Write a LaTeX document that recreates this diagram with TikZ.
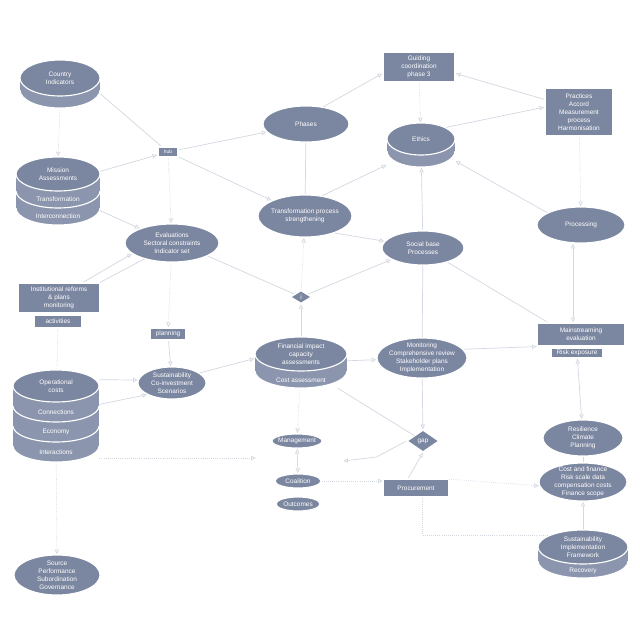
\documentclass[tikz,border=0pt]{standalone}
\usepackage{fontspec}
\setmainfont{Liberation Sans}
\usetikzlibrary{arrows.meta,shapes.geometric,calc,backgrounds}
\definecolor{slate}{HTML}{7B86A0}
\definecolor{slateside}{HTML}{8B95AD}
\definecolor{wire}{HTML}{D3D8E1}
% one band of a cylinder: cx, ytop, ybottom, rx, ry
\newcommand{\cylband}[5]{%
  \filldraw[fill=slateside, draw=white, line width=0.8pt] (#1,#3) ellipse [x radius=#4, y radius=#5];
  \fill[slateside] ({#1-#4},#2) rectangle ({#1+#4},#3);
}

\begin{document}
\begin{tikzpicture}[x=0.025cm, y=-0.025cm,
    oval/.style n args={2}{ellipse, fill=slate, draw=white, line width=0.8pt, minimum width=#1*0.025cm, minimum height=#2*0.025cm, inner sep=0pt},
    panel/.style n args={2}{rectangle, fill=slate, draw=white, line width=0.8pt, minimum width=#1*0.025cm, minimum height=#2*0.025cm, inner sep=0pt, text=white, font=\fontsize{4.6}{5.8}\selectfont, align=center},
    gate/.style n args={2}{diamond, fill=slate, draw=white, line width=0.8pt, minimum width=#1*0.025cm, minimum height=#2*0.025cm, inner sep=0pt},
    hold/.style n args={2}{rectangle, draw=none, minimum width=#1*0.025cm, minimum height=#2*0.025cm, inner sep=0pt},
    lbl/.style={text=white, font=\fontsize{4.6}{5.8}\selectfont, align=center, inner sep=0pt},
    link/.style={draw=wire, line width=0.5pt},
    arr/.style={link, -{Latex[open, length=3.5pt, width=3.5pt]}},
    dbl/.style={link, {Latex[open, length=3.5pt, width=3.5pt]}-{Latex[open, length=3.5pt, width=3.5pt]}},
    dots/.style={densely dotted}
]
    % Left column
    \cylband{60}{78}{90}{40}{18}
    \node[oval={80}{36}, label={[lbl]center:Country\\Indicators}] (c1top) at (60,78) {};
    \node[hold={80}{50}] (c1) at (60,83) {};

    \cylband{58}{191}{208}{42}{17}
    \cylband{58}{174}{191}{42}{17}
    \node[oval={84}{34}, label={[lbl]center:Mission\\Assessments}] (c3top) at (58,174) {};
    \node[lbl] (c3b1) at (58,199.5) {Transformation};
    \node[lbl] (c3b2) at (58,216.5) {Interconnection};
    \node[hold={84}{68}] (c3) at (58,191) {};

    \node[panel={81}{30}] (r12) at (59,298) {Institutional reforms\\\& plans\\monitoring};
    \node[panel={48}{13}] (r12sub) at (58,321.5) {activities};

    \cylband{56}{426}{446}{43}{16}
    \cylband{56}{406}{426}{43}{16}
    \cylband{56}{386}{406}{43}{16}
    \node[oval={86}{32}, label={[lbl]center:Operational\\costs}] (c19top) at (56,386) {};
    \node[lbl] (c19b1) at (56,412) {Connections};
    \node[lbl] (c19b2) at (56,432) {Economy};
    \node[lbl] (c19b3) at (56,452) {Interactions};
    \node[hold={86}{92}] (c19) at (56,416) {};

    \node[oval={86}{40}, label={[lbl]center:Source\\Performance\\Subordination\\Governance}] (e28) at (57,575) {};

    % Second column
    \node[panel={20}{10}, font=\fontsize{3.5}{4}\selectfont] (j2) at (168,152) {hub};
    \node[oval={94}{38}, label={[lbl]center:Evaluations\\Sectoral constraints\\Indicator set}] (e4) at (172,243) {};
    \node[panel={35}{12}] (r13) at (168,334) {planning};
    \node[oval={68}{32}, label={[lbl]center:Sustainability\\Co-investment\\Scenarios}] (e18) at (172,383) {};

    % Centre column
    \node[oval={86}{36}, label={[lbl]center:Phases}] (e5) at (306,124) {};
    \node[oval={94}{42}, label={[lbl]center:Transformation process\\strengthening}] (e9) at (305,216) {};
    \node[gate={21}{13}, label={[lbl]center:i}] (d14) at (301,297) {};

    \cylband{301}{354}{371}{46}{17}
    \node[oval={92}{34}, label={[lbl]center:Financial impact\\capacity\\assessments}] (c15top) at (301,354) {};
    \node[lbl] (c15b1) at (301,380) {Cost assessment};
    \node[hold={92}{51}] (c15) at (301,362.5) {};

    \node[oval={50}{14}, label={[lbl]center:Management}] (e20) at (297,441) {};
    \node[oval={46}{14}, label={[lbl]center:Coalition}] (e23) at (298,481) {};
    \node[oval={44}{14}, label={[lbl]center:Outcomes}] (e24) at (298,504) {};

    % Fourth column
    \node[panel={72}{30}] (r6) at (419,67) {Guiding\\coordination\\phase 3};
    \cylband{421}{139}{151}{34}{16}
    \node[oval={68}{32}, label={[lbl]center:Ethics}] (c7top) at (421,139) {};
    \node[hold={68}{44}] (c7) at (421,145) {};
    \node[oval={82}{34}, label={[lbl]center:Social base\\Processes}] (e10) at (423,248) {};
    \node[oval={90}{40}, label={[lbl]center:Monitoring\\Comprehensive review\\Stakeholder plans\\Implementation}] (e16) at (422,358) {};
    \node[gate={32}{22}, label={[lbl]center:gap}] (d21) at (423,441) {};
    \node[panel={65}{18}] (r25) at (416,488) {Procurement};

    % Right column
    \node[panel={68}{48}] (r8) at (579,112) {Practices\\Accord\\Measurement\\process\\Harmonisation};
    \node[oval={88}{36}, label={[lbl]center:Processing}] (e11) at (581,225) {};
    \node[panel={87}{23}] (r17) at (581,334.5) {Mainstreaming\\evaluation};
    \node[panel={52}{10}] (r17sub) at (577,353) {Risk exposure};
    \node[oval={80}{36}, label={[lbl]center:Resilience\\Climate\\Planning}] (e22) at (583,438) {};
    \node[oval={88}{38}, label={[lbl]center:Cost and finance\\Risk scale data\\compensation costs\\Finance scope}] (e26) at (583,482) {};
    \cylband{583}{547}{561}{45}{17}
    \node[oval={90}{34}, label={[lbl]center:Sustainability\\Implementation\\Framework}] (c27top) at (583,547) {};
    \node[lbl] (c27b1) at (583,571) {Recovery};
    \node[hold={90}{48}] (c27) at (583,554) {};

    \coordinate (endA) at (256,458);
    \coordinate (endB) at (343,461);

    % Connections
    \begin{scope}[on background layer]
    \path[use as bounding box, fill=white] (0,0) rectangle (640,640);
    \draw[arr, dots] (c1.south) -- (c3.north);
    \draw[link] (c1.-15) -- (j2);
    \draw[arr] (c3.25) -- (j2);
    \draw[arr] (j2) -- (e5);
    \draw[arr] (j2) -- (e9);
    \draw[arr, dots] (j2) -- (e4);
    \draw[arr] (c3.-25) -- (e4);
    \draw[link] (e5) -- (e9);
    \draw[arr] (e5.45) -- (r6.190);
    \draw[arr, dots] (r6) -- (c7);
    \draw[arr] (r8.160) -- (r6.-10);
    \draw[arr] (c7top.25) -- (r8.172);
    \draw[arr] (e9.50) -- (c7.210);
    \draw[arr] (e10) -- (c7);
    \draw[arr] (e11.160) -- (c7.-25);
    \draw[arr, dots] (r8) -- (e11);
    \draw[arr] (e9.-30) -- (e10.170);
    \draw[arr, dots] (d14) -- (e9);
    \draw[link] (e4.-20) -- (d14);
    \draw[arr] (d14) -- (e10.200);
    \draw[arr] (c15) -- (d14);
    \draw[link] (e10) -- (e16);
    \draw[link] (e10.-30) -- (r17.160);
    \draw[dbl] ([xshift=-0.2cm]e11.south) -- ([xshift=-0.2cm]r17.north);
    \draw[arr] (e16.12) -- (r17.south west);
    \draw[dbl] (r17sub) -- (e22);
    \draw[arr, dots] (e4) -- (r13);
    \draw[arr] (r13) -- (e18);
    \draw[arr] ([xshift=0.6cm]r12.north) -- (e4.195);
    \draw[link] (r12.north east) -- (e4.210);
    \draw[link, dots] (r12sub) -- (c19);
    \draw[arr] (c19.40) -- (e18.175);
    \draw[arr] (c19.15) -- (e18.205);
    \draw[arr] (e18.20) -- (c15.175);
    \draw[arr] (c15) -- (e16);
    \draw[arr, dots] (c15) -- (e20);
    \draw[link] (c15.-35) -- (d21);
    \draw[arr] (e16) -- (d21);
    \draw[arr, dots] (c19.east |- endA) -- (endA);
    \draw[dbl] (e20) -- (e23);
    \draw[arr, dots] (e23.east) -- (r25.west |- e23.east);
    \draw[arr] (d21.west) -- ++(-30,16) -- (endB);
    \draw[arr] (r25.130) -- (d21.south);
    \draw[arr, dots] (r25.15) -- (e26.185);
    \draw[link, dots] ([xshift=0.15cm]r25.south) |- (c27top.160);
    \draw[arr] (c27) -- (e26);
    \draw[link] (e22) -- (e26);
    \draw[arr, dots] (c19) -- (e28);
    \end{scope}
\end{tikzpicture}
\end{document}
